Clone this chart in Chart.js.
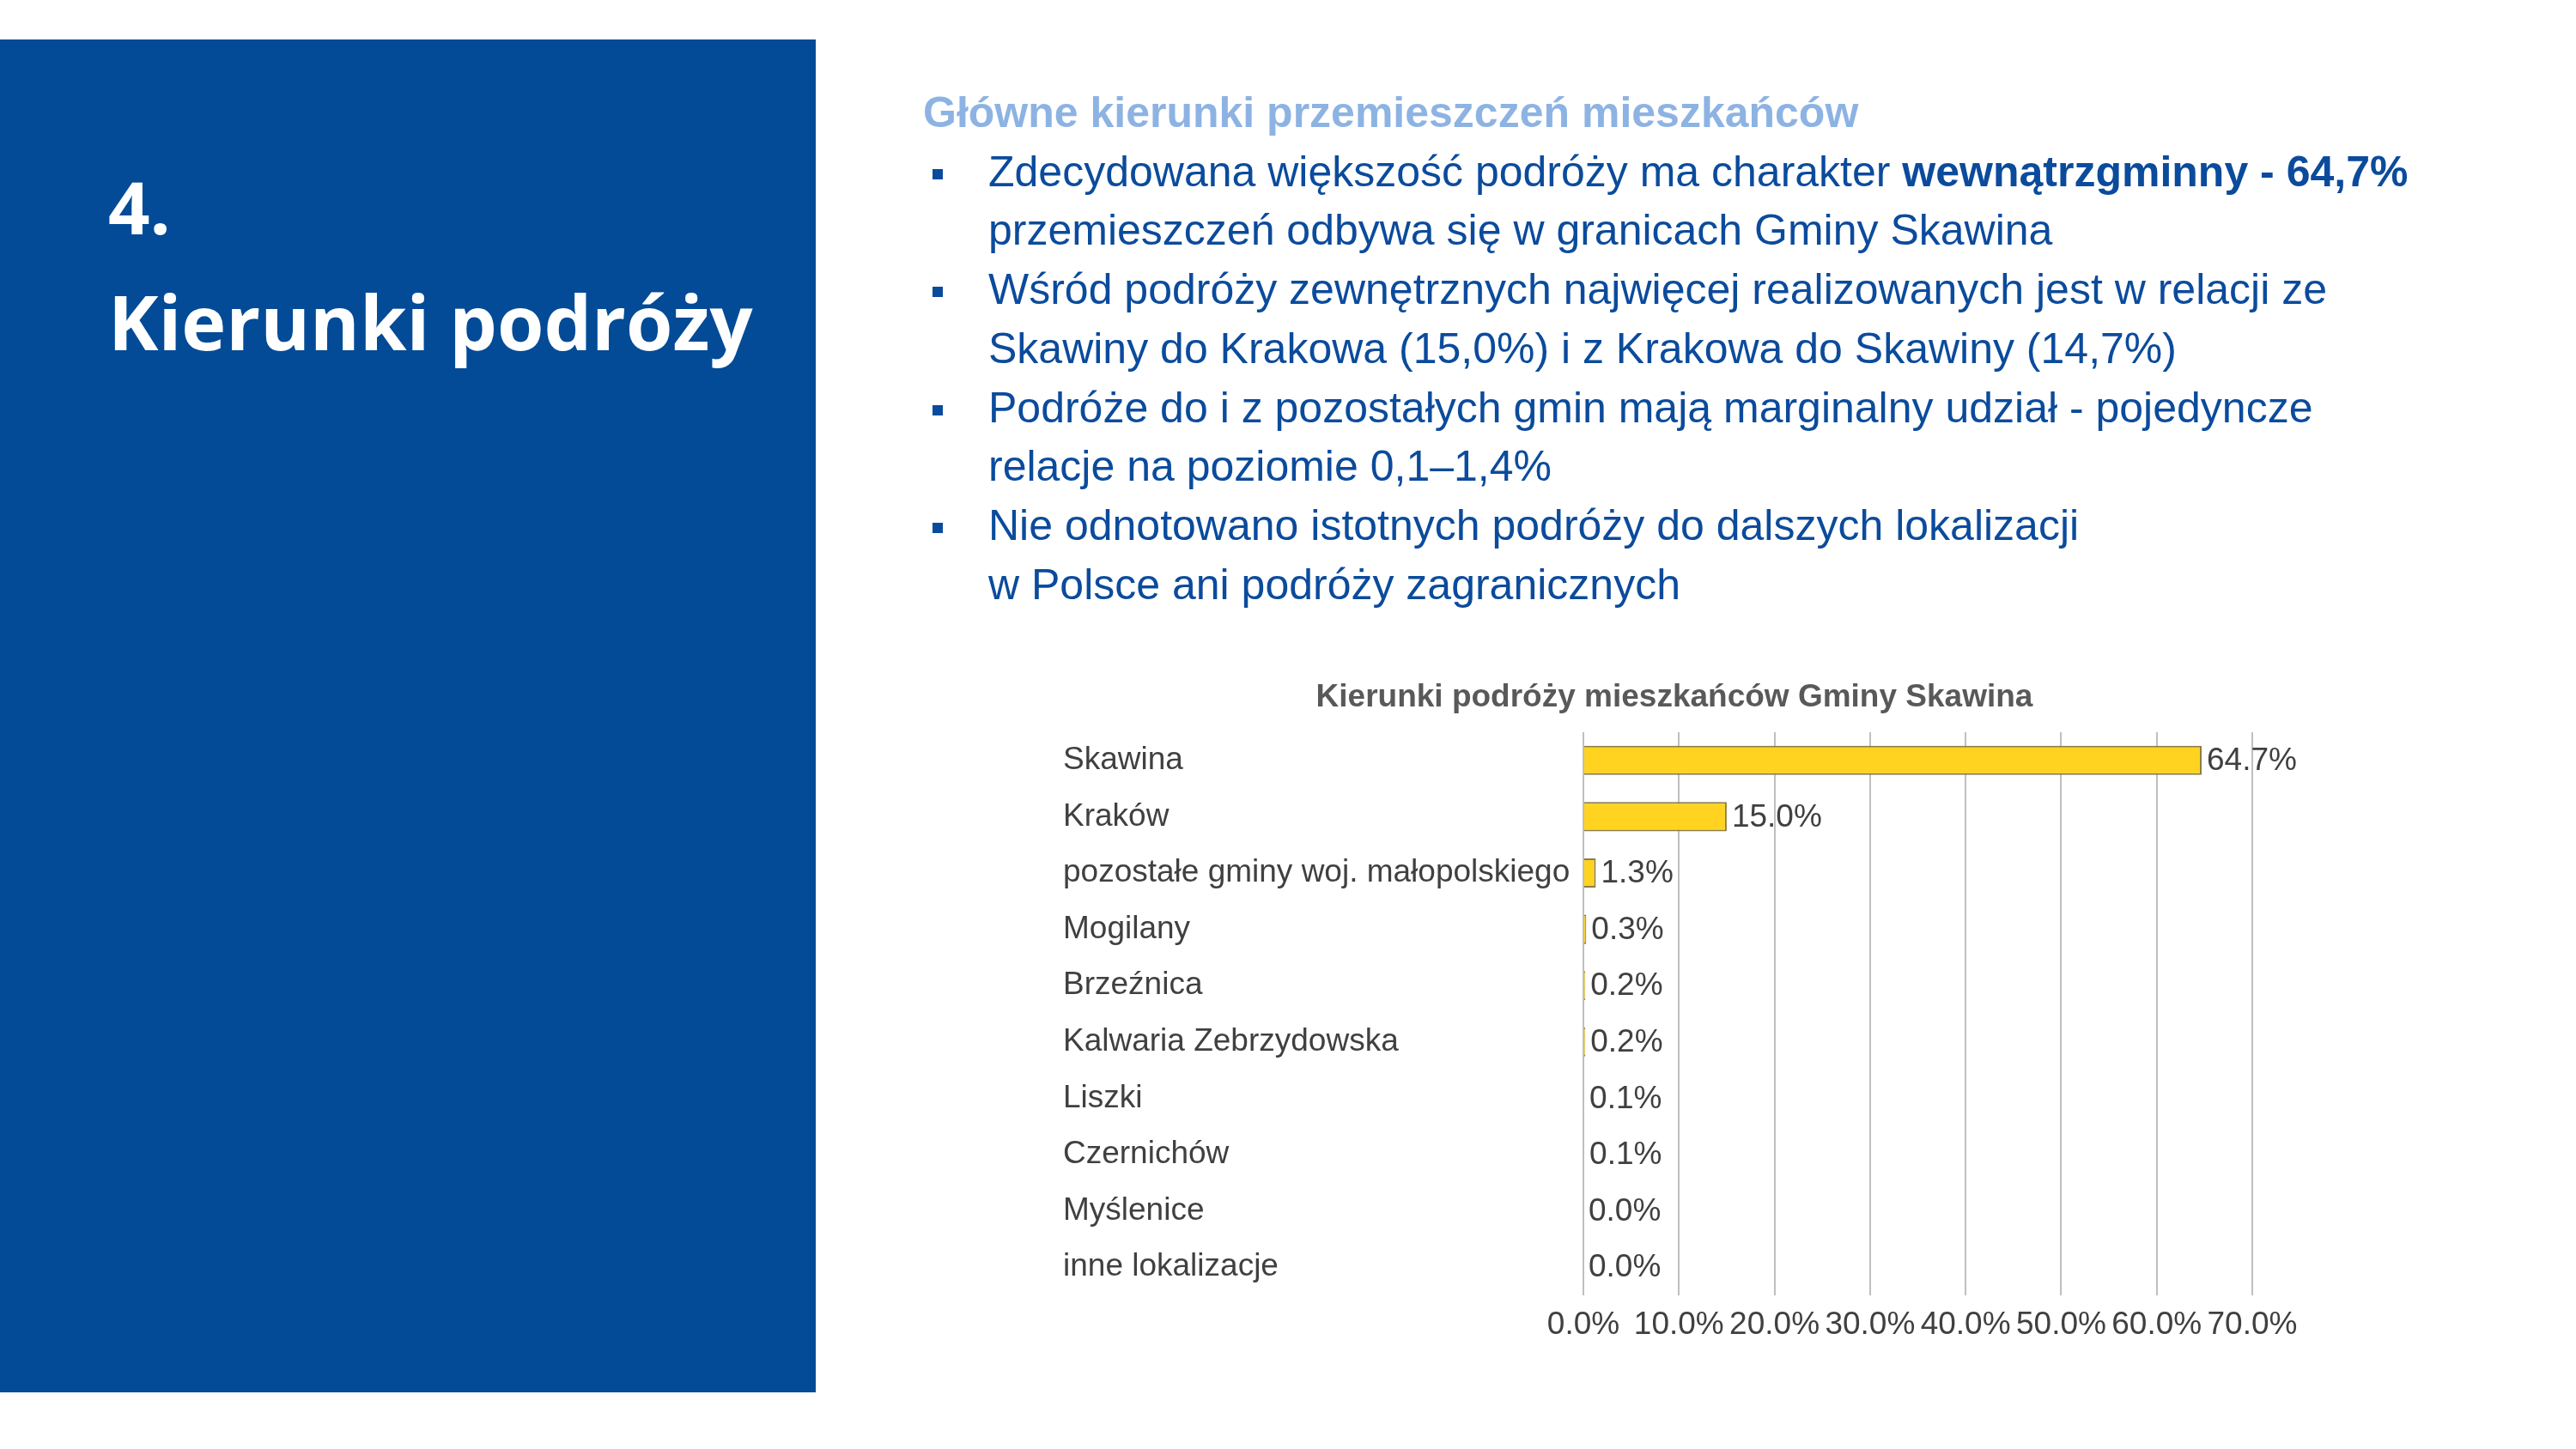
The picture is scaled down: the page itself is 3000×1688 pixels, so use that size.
<!DOCTYPE html>
<html lang="pl">
<head>
<meta charset="utf-8">
<title>Kierunki podróży</title>
<script src="https://cdn.jsdelivr.net/npm/chart.js@4.4.1/dist/chart.umd.min.js"></script>
<style>
  html, body { margin: 0; padding: 0; background: #ffffff; }
  body { width: 3000px; height: 1688px; position: relative; overflow: hidden; }
  #panel {
    position: absolute; left: 0; top: 46px; width: 950px; height: 1576px;
    background: #034b97;
  }
  .panelText {
    position: absolute; left: 126px; color: #ffffff; white-space: nowrap;
    font-family: "Open Sans", sans-serif; font-weight: 700; line-height: 1;
  }
  #num { top: 152px; font-size: 85px; }
  #sectionTitle { top: 284px; font-size: 88px; }
  #notes {
    position: absolute; left: 1075px; top: 97px;
    font-family: "Liberation Sans", Arial, sans-serif; font-size: 50px;
    line-height: 68.7px; color: #0b4b9c; white-space: nowrap;
  }
  #notes .head { color: #8db3e3; font-weight: 700; }
  #notes ul { list-style: none; margin: 0; padding: 0 0 0 76px; }
  #notes li { position: relative; }
  #notes li::before {
    content: ""; position: absolute; left: -65px; top: 31px;
    width: 12px; height: 12px; background: #0b4b9c;
  }
  #notes b { font-weight: 700; }
  #chartBox { position: absolute; left: 1238px; top: 772px; width: 1444px; height: 797px; }
</style>
</head>
<body>
<div id="panel">
  <div id="num" class="panelText">4.</div>
  <div id="sectionTitle" class="panelText">Kierunki podróży</div>
</div>

<div id="notes">
  <div class="head">Główne kierunki przemieszczeń mieszkańców</div>
  <ul>
    <li>Zdecydowana większość podróży ma charakter <b>wewnątrzgminny - 64,7%</b><br>przemieszczeń odbywa się w granicach Gminy Skawina</li>
    <li>Wśród podróży zewnętrznych najwięcej realizowanych jest w relacji ze<br>Skawiny do Krakowa (15,0%) i z Krakowa do Skawiny (14,7%)</li>
    <li>Podróże do i z pozostałych gmin mają marginalny udział - pojedyncze<br>relacje na poziomie 0,1–1,4%</li>
    <li>Nie odnotowano istotnych podróży do dalszych lokalizacji<br>w Polsce ani podróży zagranicznych</li>
  </ul>
</div>

<div id="chartBox"><canvas id="directionsChart"></canvas></div>

<script>
const categories = [
  "Skawina",
  "Kraków",
  "pozostałe gminy woj. małopolskiego",
  "Mogilany",
  "Brzeźnica",
  "Kalwaria Zebrzydowska",
  "Liszki",
  "Czernichów",
  "Myślenice",
  "inne lokalizacje",
];
const shares = [64.7, 15.0, 1.3, 0.3, 0.2, 0.2, 0.1, 0.1, 0.0, 0.0];
const tickValues = [0, 10, 20, 30, 40, 50, 60, 70];
const chartTitle = "Kierunki podróży mieszkańców Gminy Skawina";

document.addEventListener("DOMContentLoaded", function () {
  const ctx = document.getElementById("directionsChart").getContext("2d");
  Chart.defaults.font.family = "'Liberation Sans', Arial, sans-serif";

  // value labels next to the bar ends
  const valueLabels = {
    id: "valueLabels",
    afterDatasetsDraw: function (chart) {
      const c = chart.ctx;
      const meta = chart.getDatasetMeta(0);
      c.save();
      c.font = "37px 'Liberation Sans', Arial, sans-serif";
      c.fillStyle = "#404040";
      c.textAlign = "left";
      c.textBaseline = "middle";
      meta.data.forEach(function (bar, i) {
        c.fillText(shares[i].toFixed(1) + "%", bar.x + 6, bar.y + 1);
      });
      c.restore();
    },
  };

  new Chart(ctx, {
    type: "bar",
    data: {
      labels: categories,
      datasets: [
        {
          data: shares,
          backgroundColor: "#ffd320",
          borderColor: "#8c7e45",
          borderWidth: 2,
          barPercentage: 0.52,
          categoryPercentage: 1,
        },
      ],
    },
    options: {
      indexAxis: "y",
      responsive: true,
      maintainAspectRatio: false,
      animation: false,
      layout: { padding: { left: 0, right: 20, top: 0, bottom: 0 } },
      plugins: {
        legend: { display: false },
        tooltip: { enabled: false },
        title: {
          display: true,
          text: chartTitle,
          color: "#595959",
          font: { size: 37, weight: "bold" },
          padding: { top: 19, bottom: 17.6 },
        },
      },
      scales: {
        x: {
          min: tickValues[0],
          max: tickValues[tickValues.length - 1],
          afterBuildTicks: function (scale) {
            scale.ticks = tickValues.map(function (v) { return { value: v }; });
          },
          afterFit: function (scale) {
            scale.height = 60;
            scale.paddingRight = 59;
          },
          grid: { color: "#bfbfbf", lineWidth: 2, drawTicks: false },
          border: { display: false },
          ticks: {
            color: "#404040",
            font: { size: 37 },
            padding: 13,
            maxRotation: 0,
            autoSkip: false,
            callback: function (value) {
              return value.toFixed(1) + "%";
            },
          },
        },
        y: {
          afterFit: function (scale) {
            scale.width = 606;
          },
          grid: { display: false },
          border: { display: false },
          ticks: {
            color: "#404040",
            font: { size: 37 },
            crossAlign: "far",
            autoSkip: false,
          },
        },
      },
    },
    plugins: [valueLabels],
  });
});
</script>
</body>
</html>
